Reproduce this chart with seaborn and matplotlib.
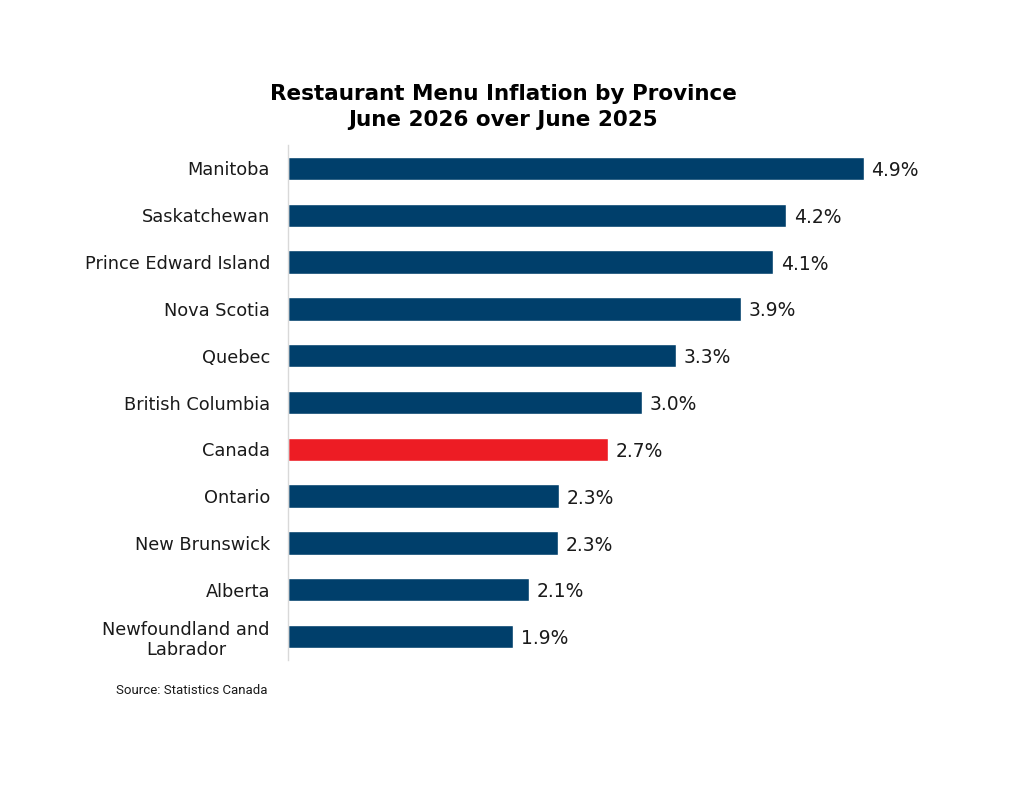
import matplotlib
matplotlib.use("Agg")
import matplotlib.pyplot as plt
import seaborn as sns
import pandas as pd

provinces = ["Manitoba", "Saskatchewan", "Prince Edward Island", "Nova Scotia",
             "Quebec", "British Columbia", "Canada", "Ontario", "New Brunswick",
             "Alberta", "Newfoundland and\nLabrador"]
values = [4.88, 4.22, 4.11, 3.84, 3.29, 3.00, 2.71, 2.30, 2.29, 2.04, 1.91]
value_labels = ["4.9%", "4.2%", "4.1%", "3.9%", "3.3%", "3.0%", "2.7%", "2.3%", "2.3%", "2.1%", "1.9%"]
highlight = "Canada"

NAVY = "#003F6B"
RED = "#ED1C24"

sns.set_theme(style="white")
plt.rcParams['font.family'] = ['DejaVu Sans']

df = pd.DataFrame({"province": provinces, "value": values})
palette = {p: (RED if p == highlight else NAVY) for p in provinces}

fig = plt.figure(figsize=(10.24, 7.91), dpi=100)
ax = fig.add_axes([288/1024, 1 - 660/791, (935-288)/1024, (660-145)/791])

sns.barplot(data=df, x="value", y="province", hue="province", palette=palette,
            order=provinces, legend=False, width=0.5, ax=ax, orient="h",
            saturation=1)

ax.set_xlim(0, 647/118)
ax.set_ylim(10.5, -0.5)
ax.set_xlabel("")
ax.set_ylabel("")
ax.set_xticks([])
for s in ["top", "right", "bottom"]:
    ax.spines[s].set_visible(False)
ax.spines["left"].set_color("#d9d9d9")
ax.spines["left"].set_linewidth(1.0)
ax.tick_params(axis="y", length=0, pad=13, labelsize=12.8, labelcolor="#1a1a1a")
for lbl in ax.get_yticklabels():
    lbl.set_horizontalalignment("right")
    lbl.set_multialignment("center")

for i, (v, t) in enumerate(zip(values, value_labels)):
    ax.annotate(t, xy=(v, i), xytext=(5.5, -1.5), textcoords="offset points",
                va="center", ha="left", fontsize=13.5, color="#1a1a1a")

fig.text(503/1024, 1 - 107/791, "Restaurant Menu Inflation by Province\nJune 2026 over June 2025",
         ha="center", va="center", fontsize=15.5, fontweight="bold", color="black",
         linespacing=1.36)

fig.text(268/1024, 1 - 690/791, "Source: Statistics Canada", ha="right", va="center",
         fontsize=9.5, color="#1a1a1a", family=["Liberation Sans Narrow", "Roboto", "DejaVu Sans"])

fig.savefig("out.png", dpi=100, facecolor="white")
